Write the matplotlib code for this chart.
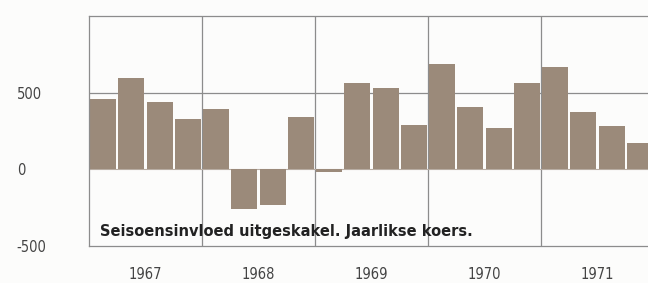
import numpy as np
import matplotlib.pyplot as plt

# Kwartaalwaardes per jaar (seisoensinvloed uitgeskakel)
jare = ["1967", "1968", "1969", "1970", "1971"]
waardes = [460, 595, 440, 330,
           395, -260, -235, 340,
           -18, 565, 530, 290,
           690, 405, 272, 562,
           670, 372, 280, 170]
y_ticks = [-500, 0, 500]
y_labels = ["-500", "0", "500"]

narrow = ["DejaVu Sans"]
bold = ["DejaVu Sans"]

fig = plt.figure(figsize=(6.48, 2.83), dpi=100)
fig.patch.set_facecolor("#fcfcfb")
ax = fig.add_axes([89 / 648, 37 / 283, 565 / 648, 230 / 283])
ax.set_facecolor("#fcfcfb")

x = np.arange(len(waardes)) + 0.5
ax.bar(x, waardes, width=0.92, color="#9b8a7a", edgecolor="none", zorder=2)

ax.set_xlim(0, 4 * len(jare))
ax.set_ylim(-500, 1000)

# rooster
grid_c = "#8c8c8c"
for k in range(1, len(jare)):
    ax.axvline(4 * k, color=grid_c, lw=0.9, zorder=1)
ax.axhline(500, color=grid_c, lw=0.9, zorder=1)
ax.axhline(0, color="#b8ada3", lw=0.8, zorder=1)
for s in ["top", "bottom", "left"]:
    ax.spines[s].set_color(grid_c)
    ax.spines[s].set_linewidth(0.9)
ax.spines["right"].set_visible(False)

ax.set_yticks(y_ticks)
ax.set_yticklabels(y_labels, family=narrow, fontsize=10.5, color="#444444",
                   fontstretch="condensed")
for lab in ax.get_yticklabels():
    lab.set_horizontalalignment("left")
ax.tick_params(axis="y", length=0, pad=52)

ax.set_xticks(np.arange(len(jare)) * 4 + 2)
ax.set_xticklabels(jare, family=narrow, fontsize=10.5, color="#444444",
                   fontstretch="condensed")
ax.tick_params(axis="x", length=0, pad=15)

ax.text(0.0195, 0.062, "Seisoensinvloed uitgeskakel. Jaarlikse koers.",
        transform=ax.transAxes, family=bold, fontweight="bold",
        fontsize=10.5, color="#222222", va="center", ha="left")

fig.savefig("out.png", dpi=100, facecolor=fig.get_facecolor())
